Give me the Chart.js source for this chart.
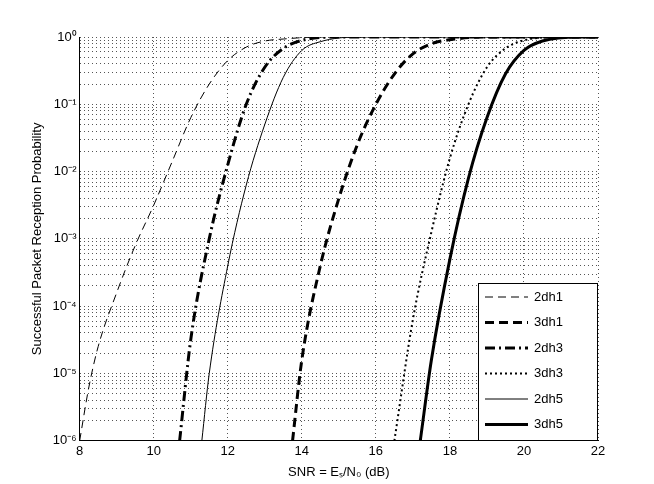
<!DOCTYPE html><html><head><style>body{margin:0;background:#fff}#w{width:654px;height:484px}</style>
<script src="https://cdn.jsdelivr.net/npm/chart.js@4"></script></head><body><div id="w"><canvas id="c"></canvas></div><script>
const seriesNames=["2dh1","3dh1","2dh3","3dh3","2dh5","3dh5"];
const snr2dh1=[8.0,8.25,8.5,9,9.5,10,10.5,11,11.5,12,12.5,13,13.5,14.5,22];
const log2dh1=[-6,-5.2,-4.6,-3.8,-3.1,-2.5,-1.85,-1.2,-0.7,-0.35,-0.15,-0.06,-0.03,0,0];
const snr3dh1=[13.75,14,14.5,15,15.5,16,16.5,17,17.5,18,19,22];
const log3dh1=[-6,-4.8,-3.4,-2.4,-1.6,-1.0,-0.55,-0.25,-0.1,-0.04,0,0];
const snr2dh3=[10.7,11,11.5,12,12.5,13,13.5,14,15,22];
const log2dh3=[-6,-4.5,-3.0,-1.9,-1.0,-0.45,-0.17,-0.05,0,0];
const snr3dh3=[16.5,17,17.5,18,18.5,19,19.5,20,21,22];
const log3dh3=[-6,-4.2,-2.9,-1.8,-1.0,-0.45,-0.17,-0.05,0,0];
const snr2dh5=[11.3,11.5,12,12.5,13,13.5,14,14.5,15.5,22];
const log2dh5=[-6,-5,-3.4,-2.2,-1.3,-0.6,-0.2,-0.07,0,0];
const snr3dh5=[17.2,17.5,18,18.5,19,19.5,20,20.5,21.5,22];
const log3dh5=[-6,-4.8,-3.3,-2.1,-1.2,-0.55,-0.2,-0.06,0,0];
const styles=[{w:1,d:[8,5]},{w:3,d:[9,5]},{w:3,d:[10,4,2,4]},{w:2,d:[2,3]},{w:1,d:[]},{w:3,d:[]}];
const xs=[snr2dh1,snr3dh1,snr2dh3,snr3dh3,snr2dh5,snr3dh5],ls=[log2dh1,log3dh1,log2dh3,log3dh3,log2dh5,log3dh5];
const sup={"-":"⁻","0":"⁰","1":"¹","2":"²","3":"³","4":"⁴","5":"⁵","6":"⁶"};
const datasets=seriesNames.map((n,i)=>({label:n,data:xs[i].map((x,j)=>({x,y:Math.pow(10,ls[i][j])})),borderColor:'#000',borderWidth:styles[i].w,borderDash:styles[i].d,pointRadius:0,cubicInterpolationMode:'monotone',fill:false}));
const legendPlugin={id:'lg',afterDraw(ch){const c=ch.ctx,x0=478,y0=283,w=119,h=157;c.save();c.fillStyle='#fff';c.fillRect(x0,y0,w,h);c.strokeStyle='#000';c.lineWidth=1;c.setLineDash([]);c.strokeRect(x0+.5,y0+.5,w,h);c.font='13px "Liberation Sans", Arial';c.textBaseline='middle';
seriesNames.forEach((n,i)=>{const y=y0+14+i*25.5;c.beginPath();c.setLineDash(styles[i].d);c.lineWidth=styles[i].w;c.moveTo(x0+7,y);c.lineTo(x0+50,y);c.stroke();c.setLineDash([]);c.fillStyle='#000';c.fillText(n,x0+56,y);});c.restore();}};
new Chart(document.getElementById('c'),{type:'line',data:{datasets},plugins:[legendPlugin],options:{responsive:true,maintainAspectRatio:false,animation:false,layout:{padding:{top:37,right:56,bottom:0,left:26}},plugins:{legend:{display:false},tooltip:{enabled:false}},
scales:{x:{type:'linear',min:8,max:22,ticks:{stepSize:2,color:'#000',font:{size:13,family:'"Liberation Sans", Arial'}},grid:{color:'#555',drawTicks:false,lineWidth:1},border:{color:'#000',dash:[1,3]},title:{display:true,text:'SNR = Eₛ/N₀ (dB)',color:'#000',font:{size:13,family:'"Liberation Sans", Arial'},padding:{top:2}}},
y:{type:'logarithmic',min:1e-6,max:1,afterBuildTicks(a){const t=[];for(let e=-6;e<=0;e++){for(let k=1;k<=9;k++){if(e==0&&k>1)break;t.push({value:k*Math.pow(10,e)});}}a.ticks=t;},ticks:{autoSkip:false,color:'#000',font:{size:13,family:'"Liberation Sans", Arial'},callback(v){const e=Math.round(Math.log10(v));if(Math.abs(v-Math.pow(10,e))>1e-12*Math.pow(10,e))return '';return '10'+String(e).split('').map(ch=>sup[ch]).join('');}},grid:{color:'#555',drawTicks:false},border:{color:'#000',dash:[1,3]},title:{display:true,text:'Successful Packet Reception Probability',color:'#000',font:{size:13,family:'"Liberation Sans", Arial'}}}}}});
</script></body></html>
